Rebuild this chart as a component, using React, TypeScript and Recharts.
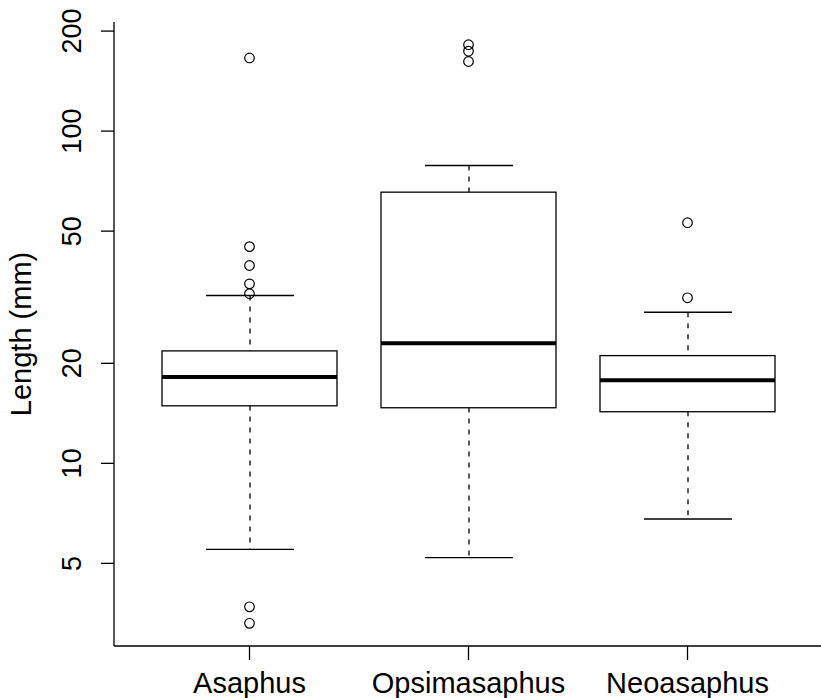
import { ComposedChart, Bar, Scatter, XAxis, YAxis } from 'recharts';

const categories = ['Asaphus', 'Opsimasaphus', 'Neoasaphus'];
const whiskLow = [5.51, 5.2, 6.8];
const q1 = [14.9, 14.7, 14.3];
const median = [18.2, 23.0, 17.8];
const q3 = [21.8, 65.5, 21.1];
const whiskHigh = [32.0, 78.8, 28.5];
const outliers = [
  [166, 44.9, 39.4, 34.7, 32.4, 3.7, 3.3],
  [182, 174, 162],
  [53.0, 31.5],
];
const yTicks = [5, 10, 20, 50, 100, 200];

const MAX_OUT = Math.max(...outliers.map(o => o.length));
const outKeys = Array.from({ length: MAX_OUT }, (_, i) => `o${i}`);

const data = categories.map((name, i) => {
  const row: Record<string, unknown> = {
    name,
    whisker: [whiskLow[i], whiskHigh[i]],
    box: [q1[i], q3[i]],
    median: median[i],
  };
  outliers[i].forEach((v, j) => { row[`o${j}`] = v; });
  return row;
});

const FONT = '"Liberation Sans", Arial, Helvetica, sans-serif';
const BOX_W = 175;
const CAP_W = 88;
const LW = 1.3;
const PAD = { left: 26, right: 24 };

const WhiskerShape = (p: any) => {
  const { x, y, width, height } = p;
  if (!Number.isFinite(y) || !Number.isFinite(height)) return <g />;
  const cx = x + width / 2;
  return (
    <g>
      <line x1={cx} x2={cx} y1={y} y2={y + height} stroke="#000" strokeWidth={LW} strokeDasharray="5 6" />
      <line x1={x} x2={x + width} y1={y} y2={y} stroke="#000" strokeWidth={LW} />
      <line x1={x} x2={x + width} y1={y + height} y2={y + height} stroke="#000" strokeWidth={LW} />
    </g>
  );
};

const BoxShape = (p: any) => {
  const { x, y, width, height } = p;
  if (!Number.isFinite(y) || !Number.isFinite(height)) return <g />;
  return <rect x={x} y={y} width={width} height={height} fill="#fff" stroke="#000" strokeWidth={LW} />;
};

const MedianShape = (p: any) => {
  const { cx, cy } = p;
  if (!Number.isFinite(cx) || !Number.isFinite(cy)) return <g />;
  return <line x1={cx - BOX_W / 2} x2={cx + BOX_W / 2} y1={cy} y2={cy} stroke="#000" strokeWidth={4} />;
};

const OutlierShape = (p: any) => {
  const { cx, cy } = p;
  if (!Number.isFinite(cx) || !Number.isFinite(cy)) return <g />;
  return <circle cx={cx} cy={cy} r={4.8} fill="none" stroke="#000" strokeWidth={1.2} />;
};

const XTick = ({ x, y, payload }: any) => (
  <text x={x} y={y + 33} textAnchor="middle" fontFamily={FONT} fontSize={29} fill="#000">
    {payload.value}
  </text>
);

const YTick = ({ x, y, payload }: any) => (
  <text
    x={x - 20}
    y={y}
    transform={`rotate(-90 ${x - 20} ${y})`}
    textAnchor="middle"
    fontFamily={FONT}
    fontSize={27}
    fill="#000"
  >
    {payload.value}
  </text>
);

const YLabel = ({ viewBox }: any) => {
  const lx = viewBox.x + 31;
  const ly = viewBox.y + viewBox.height / 2;
  return (
    <text x={lx} y={ly} transform={`rotate(-90 ${lx} ${ly})`} textAnchor="middle" fontFamily={FONT} fontSize={29} fill="#000">
      Length (mm)
    </text>
  );
};

export default function App() {
  return (
    <div style={{ position: 'fixed', left: 0, top: 0, width: 821, height: 698, background: '#fff' }}>
      <ComposedChart width={821} height={698} data={data} margin={{ top: 22, right: 0, bottom: 0, left: 0 }}>
        <XAxis
          dataKey="name"
          height={52}
          padding={PAD}
          tickSize={14}
          tickMargin={0}
          tick={<XTick />}
          axisLine={{ stroke: '#000', strokeWidth: LW }}
          tickLine={{ stroke: '#000', strokeWidth: LW }}
          interval={0}
        />
        <XAxis
          xAxisId="top"
          orientation="top"
          dataKey="name"
          height={0}
          padding={PAD}
          tick={false}
          tickLine={false}
          axisLine={{ stroke: '#000', strokeWidth: LW }}
        />
        <XAxis xAxisId="w" dataKey="name" padding={PAD} hide />
        <XAxis xAxisId="b" dataKey="name" padding={PAD} hide />
        <YAxis
          type="number"
          scale="log"
          domain={[2.82, 213]}
          allowDataOverflow
          ticks={yTicks}
          width={114}
          tickSize={13}
          tickMargin={0}
          tick={<YTick />}
          axisLine={{ stroke: '#000', strokeWidth: LW }}
          tickLine={{ stroke: '#000', strokeWidth: LW }}
          label={<YLabel />}
        />
        <Bar xAxisId="w" dataKey="whisker" barSize={CAP_W} shape={<WhiskerShape />} isAnimationActive={false} />
        <Bar xAxisId="b" dataKey="box" barSize={BOX_W} shape={<BoxShape />} isAnimationActive={false} />
        <Scatter dataKey="median" shape={<MedianShape />} isAnimationActive={false} />
        {outKeys.map(k => (
          <Scatter key={k} dataKey={k} shape={<OutlierShape />} isAnimationActive={false} />
        ))}
      </ComposedChart>
    </div>
  );
}
